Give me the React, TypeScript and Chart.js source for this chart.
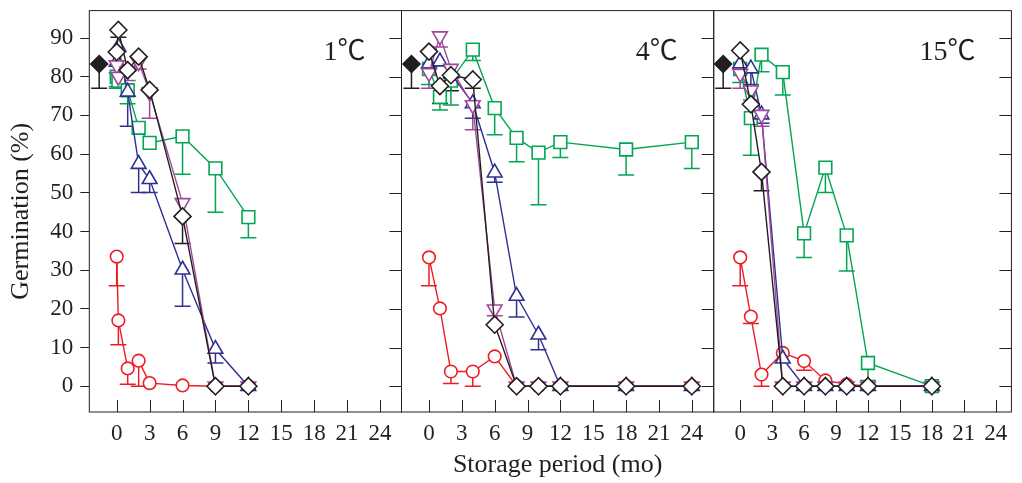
import React, { useEffect, useRef } from "react";
import { Chart, registerables } from "chart.js";

Chart.register(...registerables);

const xTickValues = [0, 3, 6, 9, 12, 15, 18, 21, 24];
const yTickValues = [0, 10, 20, 30, 40, 50, 60, 70, 80, 90];
const panelLabels = ["1℃", "4℃", "15℃"];
const xTitle = "Storage period (mo)";
const yTitle = "Germination (%)";

const ctrlMonths = [-1.6];
const ctrlValues = [83.3];
const ctrlErrLow = [77];

const months1 = [0, 0.15, 1, 2, 3, 6, 9, 12];
const red1 = [33.5, 17, 4.6, 6.6, 0.8, 0.2, 0, 0];
const red1Err = [26, 10.7, 0.5, 0, null, null, null, null];
const green1 = [80, 79, 76.5, 66.8, 62.9, 64.6, 56.3, 43.7];
const green1Err = [77.5, 77, 73, null, null, 54.8, 45, 38.4];
const blue1 = [83.8, 87.7, 76.1, 57.4, 53.5, 30.1, 9.6, 0];
const blue1Err = [81, null, 67.2, 50.1, 50.1, 20.7, 6, null];
const pink1 = [83, 80, 81.5, 83.8, 76, 47.4, 0, 0];
const pink1Err = [77, null, 79, 82, 69.3, null, null, null];
const black1 = [86.4, 92.1, 81.7, 85.2, 76.6, 43.9, 0, 0];
const black1Err = [null, 90.2, null, null, null, 36.9, null, null];

const months2 = [0, 1, 2, 4, 6, 8, 10, 12, 18, 24];
const red2 = [33.3, 20.1, 3.8, 3.8, 7.7, 0, 0, 0, 0, 0];
const red2Err = [26, null, 0.7, 0, null, null, null, null, null, null];
const green2 = [82, 74.8, 79, 87, 71.9, 64.2, 60.4, 63.1, 61.2, 63.1];
const green2Err = [78, 71.4, 72.7, 84.2, 65, 58, 46.9, 59.1, 54.6, 56.3];
const blue2 = [83.4, 83.9, 80.8, 73.1, 55.2, 23.3, 13.3, 0, 0, 0];
const blue2Err = [null, null, 77.9, 69.3, 52.7, 17.9, 9.4, null, null, null];
const pink2 = [81, 90.5, 82.1, 72.7, 19.9, 0, 0, 0, 0, 0];
const pink2Err = [77, 87.7, null, 66.3, 18.2, null, null, null, null, null];
const black2 = [86.5, 77.6, 80.4, 79.3, 15.9, 0, 0, 0, 0, 0];
const black2Err = [null, 73.1, 76.4, 77, null, null, null, null, null, null];

const months3 = [0, 1, 2, 4, 6, 8, 10, 12, 18];
const red3 = [33.3, 18, 3, 8.6, 6.5, 1.5, 0.5, 0, 0];
const red3Err = [26, 16.2, 0, null, 4.1, null, null, null, null];
const green3 = [82, 69.3, 85.7, 81.2, 39.5, 56.5, 39, 6, 0];
const green3Err = [78.5, 59.7, 81.3, 75.3, 33.3, 50.1, 29.8, 1.5, null];
const blue3 = [83.4, 82.1, 70.2, 7.1, 0, 0, 0, 0, 0];
const blue3Err = [null, 78, 68, null, null, null, null, null, null];
const pink3 = [80.8, 76.5, 70.2, 0, 0, 0, 0, 0, 0];
const pink3Err = [77, 74, 67.2, null, null, null, null, null, null];
const black3 = [86.8, 72.9, 55.4, 0, 0, 0, 0, 0, 0];
const black3Err = [null, null, 50.5, null, null, null, null, null, null];

const RED = "#ee1c24";
const GREEN = "#00a651";
const BLUE = "#2e3192";
const PINK = "#a3479a";
const BLACK = "#231f20";
const SERIF = "'Liberation Serif'";

const W = 1022;
const H = 483;
const AREA_TOP = 7.3;
const AREA_BOTTOM = 412;
const Y_MIN = -6.67;
const Y_MAX = 97.1;

type Panel = {
  months: number[];
  red: (number | null)[]; redErr: (number | null)[];
  green: (number | null)[]; greenErr: (number | null)[];
  blue: (number | null)[]; blueErr: (number | null)[];
  pink: (number | null)[]; pinkErr: (number | null)[];
  black: (number | null)[]; blackErr: (number | null)[];
  label: string;
  left: number; right: number; xMin: number; xMax: number;
  first: boolean; xTitle: boolean;
};

const panels: Panel[] = [
  { months: months1, red: red1, redErr: red1Err, green: green1, greenErr: green1Err, blue: blue1, blueErr: blue1Err, pink: pink1, pinkErr: pink1Err, black: black1, blackErr: black1Err, label: panelLabels[0], left: 89.3, right: 401.5, xMin: -2.5, xMax: 25.96, first: true, xTitle: false },
  { months: months2, red: red2, redErr: red2Err, green: green2, greenErr: green2Err, blue: blue2, blueErr: blue2Err, pink: pink2, pinkErr: pink2Err, black: black2, blackErr: black2Err, label: panelLabels[1], left: 401.5, right: 713.7, xMin: -2.51, xMax: 26.0, first: false, xTitle: true },
  { months: months3, red: red3, redErr: red3Err, green: green3, greenErr: green3Err, blue: blue3, blueErr: blue3Err, pink: pink3, pinkErr: pink3Err, black: black3, blackErr: black3Err, label: panelLabels[2], left: 713.7, right: 1021, xMin: -2.49, xMax: 25.47, first: false, xTitle: false },
];

const pts = (xs: number[], ys: (number | null)[]) => xs.map((x, i) => ({ x, y: ys[i] }));

const errorBars = {
  id: "errorBars",
  beforeDatasetsDraw(chart: any) {
    const ctx = chart.ctx;
    const xs = chart.scales.x;
    const ys = chart.scales.y;
    ctx.save();
    chart.data.datasets.forEach((ds: any) => {
      const err = ds.errLow;
      if (!err) return;
      ctx.strokeStyle = ds.borderColor;
      ctx.lineWidth = 1.5;
      ds.data.forEach((p: any, j: number) => {
        const e = err[j];
        if (e == null || p.y == null) return;
        const px = xs.getPixelForValue(p.x);
        const y0 = ys.getPixelForValue(p.y);
        const y1 = ys.getPixelForValue(e);
        ctx.beginPath();
        ctx.moveTo(px, y0);
        ctx.lineTo(px, y1);
        ctx.moveTo(px - 8, y1);
        ctx.lineTo(px + 8, y1);
        ctx.stroke();
      });
    });
    ctx.restore();
  },
};

const frame = {
  id: "frame",
  afterDraw(chart: any) {
    const ctx = chart.ctx;
    const { left, right, top, bottom } = chart.chartArea;
    const xs = chart.scales.x;
    const ys = chart.scales.y;
    ctx.save();
    ctx.strokeStyle = BLACK;
    ctx.lineWidth = 1;
    ctx.strokeRect(left, top, right - left, bottom - top);
    ctx.beginPath();
    xs.ticks.forEach((t: any) => {
      const px = Math.round(xs.getPixelForValue(t.value)) + 0.5;
      ctx.moveTo(px, bottom);
      ctx.lineTo(px, bottom - 12);
    });
    ys.ticks.forEach((t: any) => {
      const py = Math.round(ys.getPixelForValue(t.value)) + 0.5;
      ctx.moveTo(right, py);
      ctx.lineTo(right - 12, py);
    });
    ctx.stroke();
    const label = chart.options.plugins.frame?.label;
    if (label) {
      ctx.fillStyle = BLACK;
      ctx.font = `28px ${SERIF}, 'Noto Sans CJK SC'`;
      ctx.textAlign = "right";
      ctx.textBaseline = "alphabetic";
      ctx.fillText(label, right - 36, top + 49.5);
    }
    ctx.restore();
  },
};

function makeConfig(p: Panel): any {
  const series = [
    { data: pts(p.months, p.black), errLow: p.blackErr, color: BLACK, style: "rectRot", radius: 8.5, rot: 0 },
    { data: pts(p.months, p.pink), errLow: p.pinkErr, color: PINK, style: "triangle", radius: 8.5, rot: 180 },
    { data: pts(p.months, p.blue), errLow: p.blueErr, color: BLUE, style: "triangle", radius: 8.5, rot: 0 },
    { data: pts(p.months, p.green), errLow: p.greenErr, color: GREEN, style: "rect", radius: 9, rot: 0 },
    { data: pts(p.months, p.red), errLow: p.redErr, color: RED, style: "circle", radius: 6.3, rot: 0 },
  ];
  const datasets: any[] = [
    {
      data: pts(ctrlMonths, ctrlValues),
      errLow: ctrlErrLow,
      borderColor: BLACK,
      backgroundColor: BLACK,
      pointStyle: "rectRot",
      pointRadius: 8.5,
      pointBackgroundColor: BLACK,
      pointBorderColor: BLACK,
      pointBorderWidth: 1.5,
      showLine: false,
    },
    ...series.map((s) => ({
      data: s.data,
      errLow: s.errLow,
      borderColor: s.color,
      backgroundColor: "#ffffff",
      borderWidth: 1.4,
      pointStyle: s.style,
      pointRotation: s.rot,
      pointRadius: s.radius,
      pointBorderWidth: 1.6,
      pointBorderColor: s.color,
      pointBackgroundColor: "#ffffff",
      tension: 0,
      showLine: true,
    })),
  ];
  return {
    type: "line",
    data: { datasets },
    plugins: [errorBars, frame],
    options: {
      responsive: false,
      animation: false,
      events: [],
      layout: {
        padding: {
          left: p.first ? 0 : p.left,
          right: W - p.right,
          top: AREA_TOP,
          bottom: 0,
        },
      },
      plugins: {
        legend: { display: false },
        tooltip: { enabled: false },
        frame: { label: p.label },
      },
      scales: {
        x: {
          type: "linear",
          min: p.xMin,
          max: p.xMax,
          afterBuildTicks: (s: any) => {
            s.ticks = xTickValues.map((v) => ({ value: v }));
          },
          afterFit: (s: any) => {
            s.height = H - AREA_BOTTOM;
            s.paddingLeft = 0;
            s.paddingRight = 0;
            s.paddingTop = 0;
            s.paddingBottom = 0;
          },
          grid: { display: false, drawTicks: false },
          border: { display: false },
          ticks: {
            autoSkip: false,
            maxRotation: 0,
            padding: 8,
            color: BLACK,
            font: { family: SERIF, size: 23 },
            callback: (v: any) => String(v),
          },
          title: {
            display: p.xTitle,
            text: xTitle,
            color: BLACK,
            font: { family: SERIF, size: 26 },
            padding: { top: 0, bottom: 2 },
          },
        },
        y: {
          type: "linear",
          display: p.first,
          min: Y_MIN,
          max: Y_MAX,
          afterBuildTicks: (s: any) => {
            s.ticks = yTickValues.map((v) => ({ value: v }));
          },
          afterFit: (s: any) => {
            s.width = p.first ? p.left : 0;
            s.paddingLeft = 0;
            s.paddingRight = 0;
            s.paddingTop = 0;
            s.paddingBottom = 0;
          },
          grid: {
            display: true,
            drawOnChartArea: false,
            drawTicks: true,
            tickLength: 9,
            color: BLACK,
          },
          border: { display: false },
          ticks: {
            padding: 7,
            color: BLACK,
            font: { family: SERIF, size: 23 },
            callback: (v: any) => String(v),
          },
          title: {
            display: true,
            text: yTitle,
            color: BLACK,
            font: { family: SERIF, size: 26 },
            padding: { top: 6, bottom: 0 },
          },
        },
      },
    },
  };
}

function PanelChart({ panel }: { panel: Panel }) {
  const ref = useRef<HTMLCanvasElement | null>(null);
  useEffect(() => {
    if (!ref.current) return;
    const chart = new Chart(ref.current, makeConfig(panel));
    return () => chart.destroy();
  }, [panel]);
  return (
    <canvas
      ref={ref}
      width={W}
      height={H}
      style={{ position: "absolute", left: 0, top: 0, width: W, height: H }}
    />
  );
}

export default function App() {
  return (
    <div style={{ position: "absolute", left: 0, top: 0, width: W, height: H, background: "#ffffff" }}>
      {panels.map((p, i) => (
        <PanelChart key={i} panel={p} />
      ))}
    </div>
  );
}
